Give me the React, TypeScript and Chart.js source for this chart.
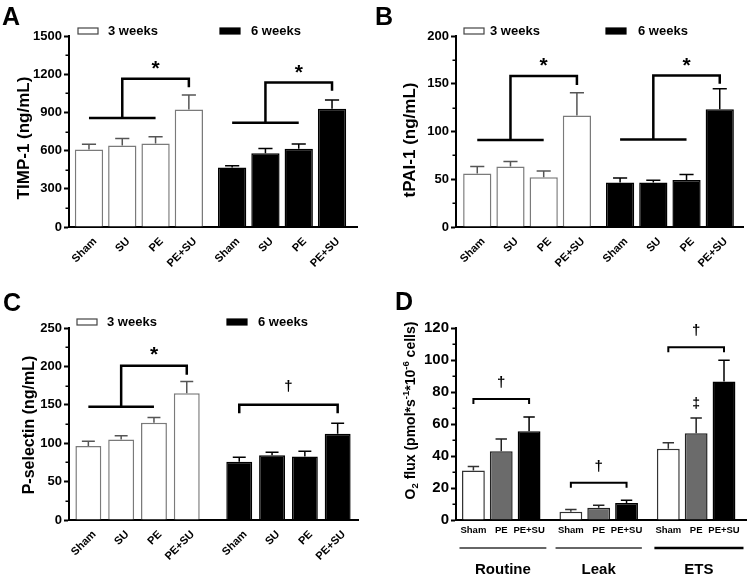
import React, { useEffect, useRef } from 'react';
import { Chart, registerables } from 'chart.js';

Chart.register(...registerables);

const FONT = 'Arial, "Liberation Sans", Helvetica, sans-serif';

// ---------------- data ----------------
const weekLabels = ['3 weeks', '6 weeks'];
const groupCats = ['Sham', 'SU', 'PE', 'PE+SU'];
const pos3w = [0, 1, 2, 3];
const pos6wAB = [4.3, 5.3, 6.3, 7.3];
const pos6wC = [4.6, 5.6, 6.6, 7.6];

// Panel A: TIMP-1 (ng/mL)
const timp3w = [609, 640, 656, 922];
const timp3wSem = [40, 55, 52, 115];
const timp6w = [468, 580, 614, 928];
const timp6wSem = [13, 37, 37, 70];

// Panel B: tPAI-1 (ng/mL)
const tpai3w = [56, 63.3, 52.1, 116.8];
const tpai3wSem = [7.3, 5.2, 6.6, 23.8];
const tpai6w = [46.5, 46.5, 49.3, 123.4];
const tpai6wSem = [4.9, 2.5, 5.6, 21.4];

// Panel C: P-selectin (ng/mL)
const psel3w = [96.5, 104.8, 126.5, 165.2];
const psel3wSem = [6.1, 4.8, 7.0, 15.2];
const psel6w = [75.7, 84.3, 82.6, 112.2];
const psel6wSem = [6.0, 4.0, 7.0, 13.9];

// Panel D: O2 flux
const o2Cats = ['Sham', 'PE', 'PE+SU'];
const o2States = ['Routine', 'Leak', 'ETS'];
const o2ShamPos = [0, 3.5, 7];
const o2PEPos = [1, 4.5, 8];
const o2PESUPos = [2, 5.5, 9];
const o2Sham = [31.0, 5.2, 44.6];
const o2ShamSem = [2.5, 1.3, 3.7];
const o2PE = [42.9, 7.7, 54.2];
const o2PESem = [7.7, 1.5, 9.6];
const o2PESU = [55.4, 10.6, 86.5];
const o2PESUSem = [9.0, 1.7, 13.3];

// significance brackets (data coordinates)
const timpSplits = [
  { from: 0, to: 2, baseY: 857, stem: 1, topY: 1165, end: 3, endY: 1097 },
  { from: 4.3, to: 6.3, baseY: 818, stem: 5.3, topY: 1134, end: 7.3, endY: 1071 },
];
const timpMarks = [
  { text: '*', x: 2, y: 1272 },
  { text: '*', x: 6.3, y: 1241 },
];
const tpaiSplits = [
  { from: 0, to: 2, baseY: 91, stem: 1, topY: 158, end: 3, endY: 148.6 },
  { from: 4.3, to: 6.3, baseY: 91.6, stem: 5.3, topY: 158.7, end: 7.3, endY: 150 },
];
const tpaiMarks = [
  { text: '*', x: 2, y: 173 },
  { text: '*', x: 6.3, y: 173 },
];
const pselSplits = [{ from: 0, to: 2, baseY: 147.4, stem: 1, topY: 201, end: 3, endY: 189 }];
const pselSpans = [{ from: 4.6, to: 7.6, y: 150, endY: 139 }];
const pselMarks = [
  { text: '*', x: 2, y: 220 },
  { text: '†', x: 6.1, y: 174 },
];
const o2Spans = [
  { from: 0, to: 2, y: 75.6, endY: 72.5 },
  { from: 3.5, to: 5.5, y: 23.3, endY: 20.2 },
  { from: 7, to: 9, y: 107.9, endY: 104.8 },
];
const o2Marks = [
  { text: '†', x: 1, y: 86.5 },
  { text: '†', x: 4.5, y: 34 },
  { text: '†', x: 8, y: 118.7 },
  { text: '‡', x: 8, y: 72.9 },
];

// ---------------- types ----------------
type Seg = { t: string; s?: 'sup' | 'sub' };
interface Series {
  label: string;
  pos: number[];
  values: number[];
  errors: number[];
  fill: string;
  stroke: string;
  err: string;
}
interface Split { from: number; to: number; baseY: number; stem: number; topY: number; end: number; endY: number }
interface Span { from: number; to: number; y: number; endY: number }
interface Mark { text: string; x: number; y: number }
interface LegendItem { label: string; fill: string; stroke: string; boxX: number; boxY: number; textX: number; textY: number }
interface Group { label: string; from: number; to: number; width: number; color: string }
interface PanelSpec {
  letter: string; letterX: number; letterY: number;
  chartLeft: number; chartTop: number; padRight: number; xHeight: number;
  yMax: number; yStep: number; yFont: number;
  xMin: number; xMax: number; tickPos: number[]; tickLabels: string[];
  xRot: number; xFont: number; xLabelOffset: number; xPad: number;
  barPct: number;
  series: Series[];
  yTitle: Seg[]; yTitleX: number; yTitleY: number; yTitleSize: number;
  legend: LegendItem[];
  splits: Split[]; spans: Span[]; marks: Mark[]; bracketWidth: number;
  markSizes: Record<string, number>;
  groups?: Group[]; groupLineDy?: number; groupLabelDy?: number; groupFont?: number;
}

function drawRich(ctx: CanvasRenderingContext2D, segs: Seg[], cx: number, cy: number, size: number) {
  ctx.save();
  ctx.translate(cx, cy);
  ctx.rotate(-Math.PI / 2);
  const parts = segs.map((s) => {
    const fs = s.s ? size * 0.68 : size;
    ctx.font = `bold ${fs}px ${FONT}`;
    return { ...s, fs, w: ctx.measureText(s.t).width };
  });
  const total = parts.reduce((a, p) => a + p.w, 0);
  let x = -total / 2;
  ctx.fillStyle = '#000';
  ctx.textBaseline = 'alphabetic';
  ctx.textAlign = 'left';
  const base = size * 0.36;
  for (const p of parts) {
    ctx.font = `bold ${p.fs}px ${FONT}`;
    const dy = p.s === 'sup' ? -size * 0.42 : p.s === 'sub' ? size * 0.22 : 0;
    ctx.fillText(p.t, x, base + dy);
    x += p.w;
  }
  ctx.restore();
}

function makeDecor(spec: PanelSpec) {
  return {
    id: 'decor' + spec.letter,
    afterDatasetsDraw(chart: any) {
      const ctx: CanvasRenderingContext2D = chart.ctx;
      const ys = chart.scales.y;
      spec.series.forEach((s, di) => {
        const meta = chart.getDatasetMeta(di);
        meta.data.forEach((bar: any, i: number) => {
          const top = ys.getPixelForValue(s.values[i] + s.errors[i]);
          const half = bar.width * 0.25;
          ctx.save();
          ctx.strokeStyle = s.err;
          ctx.lineWidth = 1.5;
          ctx.beginPath();
          ctx.moveTo(bar.x, bar.y);
          ctx.lineTo(bar.x, top);
          ctx.moveTo(bar.x - half, top);
          ctx.lineTo(bar.x + half, top);
          ctx.stroke();
          ctx.restore();
        });
      });
    },
    afterDraw(chart: any) {
      const ctx: CanvasRenderingContext2D = chart.ctx;
      const xs = chart.scales.x;
      const ys = chart.scales.y;
      const area = chart.chartArea;
      const X = (v: number) => xs.getPixelForValue(v);
      const Y = (v: number) => ys.getPixelForValue(v);
      ctx.save();
      // minor ticks
      ctx.strokeStyle = '#000';
      ctx.lineWidth = 1.5;
      ctx.beginPath();
      for (let v = spec.yStep / 2; v < spec.yMax; v += spec.yStep) {
        const py = Math.round(Y(v)) + 0.25;
        ctx.moveTo(area.left - 3.5, py);
        ctx.lineTo(area.left, py);
      }
      ctx.stroke();

      // brackets
      ctx.lineWidth = spec.bracketWidth;
      ctx.lineJoin = 'miter';
      ctx.lineCap = 'butt';
      for (const b of spec.splits) {
        ctx.beginPath();
        ctx.moveTo(X(b.from), Y(b.baseY));
        ctx.lineTo(X(b.to), Y(b.baseY));
        ctx.stroke();
        ctx.beginPath();
        ctx.moveTo(X(b.stem), Y(b.baseY));
        ctx.lineTo(X(b.stem), Y(b.topY));
        ctx.lineTo(X(b.end), Y(b.topY));
        ctx.lineTo(X(b.end), Y(b.endY));
        ctx.stroke();
      }
      for (const b of spec.spans) {
        ctx.beginPath();
        ctx.moveTo(X(b.from), Y(b.endY));
        ctx.lineTo(X(b.from), Y(b.y));
        ctx.lineTo(X(b.to), Y(b.y));
        ctx.lineTo(X(b.to), Y(b.endY));
        ctx.stroke();
      }
      // marks
      ctx.fillStyle = '#000';
      ctx.textAlign = 'center';
      ctx.textBaseline = 'alphabetic';
      for (const m of spec.marks) {
        ctx.font = `bold ${spec.markSizes[m.text]}px ${FONT}`;
        const mt = ctx.measureText(m.text);
        const asc = mt.actualBoundingBoxAscent;
        const desc = mt.actualBoundingBoxDescent;
        ctx.fillText(m.text, X(m.x), Y(m.y) + (asc - desc) / 2);
      }
      // group lines / labels (panel D)
      if (spec.groups) {
        for (const g of spec.groups) {
          ctx.strokeStyle = g.color;
          ctx.lineWidth = g.width;
          ctx.beginPath();
          const ly = area.bottom + (spec.groupLineDy || 0);
          ctx.moveTo(X(g.from), ly);
          ctx.lineTo(X(g.to), ly);
          ctx.stroke();
          ctx.font = `bold ${spec.groupFont}px ${FONT}`;
          ctx.textBaseline = 'middle';
          ctx.fillText(g.label, (X(g.from) + X(g.to)) / 2, area.bottom + (spec.groupLabelDy || 0));
        }
      }
      // legend
      for (const l of spec.legend) {
        ctx.fillStyle = l.fill;
        ctx.fillRect(l.boxX, l.boxY, 20, 6);
        ctx.strokeStyle = l.stroke;
        ctx.lineWidth = 1.2;
        ctx.strokeRect(l.boxX, l.boxY, 20, 6);
        ctx.fillStyle = '#000';
        ctx.font = `bold 13px ${FONT}`;
        ctx.textAlign = 'left';
        ctx.textBaseline = 'middle';
        ctx.fillText(l.label, l.textX, l.textY);
      }
      // panel letter
      ctx.fillStyle = '#000';
      ctx.font = `bold 25px ${FONT}`;
      ctx.textAlign = 'left';
      ctx.textBaseline = 'alphabetic';
      ctx.fillText(spec.letter, spec.letterX, spec.letterY);
      ctx.restore();
      // y title
      drawRich(ctx, spec.yTitle, spec.yTitleX, spec.yTitleY, spec.yTitleSize);
    },
  };
}

function buildConfig(spec: PanelSpec): any {
  const datasets = spec.series.map((s) => ({
    type: 'bar',
    label: s.label,
    data: s.pos.map((p, i) => ({ x: p, y: s.values[i] })),
    backgroundColor: s.fill,
    borderColor: s.stroke,
    borderWidth: 1.5,
    barPercentage: spec.barPct,
    categoryPercentage: 1,
  }));
  return {
    type: 'bar',
    data: { datasets },
    options: {
      animation: false,
      responsive: false,
      maintainAspectRatio: false,
      events: [],
      layout: { padding: { left: 0, top: spec.chartTop, right: spec.padRight, bottom: 0 } },
      plugins: { legend: { display: false }, tooltip: { enabled: false }, title: { display: false } },
      scales: {
        x: {
          type: 'linear',
          min: spec.xMin,
          max: spec.xMax,
          offset: false,
          stacked: true,
          grid: { display: false, drawTicks: false },
          border: { display: true, color: '#000', width: 2 },
          afterBuildTicks: (axis: any) => {
            axis.ticks = spec.tickPos.map((v) => ({ value: v }));
          },
          ticks: {
            autoSkip: false,
            minRotation: spec.xRot,
            maxRotation: spec.xRot,
            labelOffset: spec.xLabelOffset,
            padding: spec.xPad,
            color: '#000',
            font: { family: FONT, size: spec.xFont, weight: 'bold' },
            callback: (_v: any, i: number) => spec.tickLabels[i],
          },
          afterFit: (axis: any) => {
            axis.height = spec.xHeight;
          },
        },
        y: {
          type: 'linear',
          min: 0,
          max: spec.yMax,
          grid: { display: true, drawOnChartArea: false, drawTicks: true, tickLength: 5, tickWidth: 2, tickColor: '#000' },
          border: { display: true, color: '#000', width: 2 },
          ticks: {
            stepSize: spec.yStep,
            padding: 2,
            color: '#000',
            font: { family: FONT, size: spec.yFont, weight: 'bold' },
            callback: (v: any) => String(v),
          },
          afterFit: (axis: any) => {
            axis.width = spec.chartLeft;
          },
        },
      },
    },
    plugins: [makeDecor(spec)],
  };
}

const markSizesABC = { '*': 21, '†': 15, '‡': 14 };

const specA: PanelSpec = {
  letter: 'A', letterX: 2, letterY: 25,
  chartLeft: 69, chartTop: 36, padRight: 16, xHeight: 58,
  yMax: 1500, yStep: 300, yFont: 13,
  xMin: -0.6, xMax: 8.05, tickPos: [...pos3w, ...pos6wAB], tickLabels: [...groupCats, ...groupCats],
  xRot: 45, xFont: 11, xLabelOffset: 6, xPad: 8,
  barPct: 0.85,
  series: [
    { label: weekLabels[0], pos: pos3w, values: timp3w, errors: timp3wSem, fill: '#ffffff', stroke: '#7a7a7a', err: '#555' },
    { label: weekLabels[1], pos: pos6wAB, values: timp6w, errors: timp6wSem, fill: '#000000', stroke: '#000000', err: '#000' },
  ],
  yTitle: [{ t: 'TIMP-1 (ng/mL)' }], yTitleX: 22.5, yTitleY: 138, yTitleSize: 17,
  legend: [
    { label: weekLabels[0], fill: '#fff', stroke: '#444', boxX: 78, boxY: 28, textX: 108, textY: 31 },
    { label: weekLabels[1], fill: '#000', stroke: '#000', boxX: 220, boxY: 28, textX: 251, textY: 31 },
  ],
  splits: timpSplits, spans: [], marks: timpMarks, bracketWidth: 2.5, markSizes: markSizesABC,
};

const specB: PanelSpec = {
  letter: 'B', letterX: 2, letterY: 25,
  chartLeft: 83, chartTop: 36, padRight: 4, xHeight: 58,
  yMax: 200, yStep: 50, yFont: 13,
  xMin: -0.64, xMax: 8.0, tickPos: [...pos3w, ...pos6wAB], tickLabels: [...groupCats, ...groupCats],
  xRot: 45, xFont: 11, xLabelOffset: 6, xPad: 8,
  barPct: 0.85,
  series: [
    { label: weekLabels[0], pos: pos3w, values: tpai3w, errors: tpai3wSem, fill: '#ffffff', stroke: '#7a7a7a', err: '#555' },
    { label: weekLabels[1], pos: pos6wAB, values: tpai6w, errors: tpai6wSem, fill: '#000000', stroke: '#000000', err: '#000' },
  ],
  yTitle: [{ t: 'tPAI-1 (ng/mL)' }], yTitleX: 36, yTitleY: 140, yTitleSize: 17,
  legend: [
    { label: weekLabels[0], fill: '#fff', stroke: '#444', boxX: 91, boxY: 28, textX: 117, textY: 31 },
    { label: weekLabels[1], fill: '#000', stroke: '#000', boxX: 233, boxY: 28, textX: 265, textY: 31 },
  ],
  splits: tpaiSplits, spans: [], marks: tpaiMarks, bracketWidth: 2.5, markSizes: markSizesABC,
};

const specC: PanelSpec = {
  letter: 'C', letterX: 3, letterY: 26,
  chartLeft: 69, chartTop: 43, padRight: 15, xHeight: 58,
  yMax: 250, yStep: 50, yFont: 13,
  xMin: -0.59, xMax: 8.22, tickPos: [...pos3w, ...pos6wC], tickLabels: [...groupCats, ...groupCats],
  xRot: 45, xFont: 11, xLabelOffset: 6, xPad: 8,
  barPct: 0.79,
  series: [
    { label: weekLabels[0], pos: pos3w, values: psel3w, errors: psel3wSem, fill: '#ffffff', stroke: '#7a7a7a', err: '#555' },
    { label: weekLabels[1], pos: pos6wC, values: psel6w, errors: psel6wSem, fill: '#000000', stroke: '#000000', err: '#000' },
  ],
  yTitle: [{ t: 'P-selectin (ng/mL)' }], yTitleX: 28, yTitleY: 140, yTitleSize: 16,
  legend: [
    { label: weekLabels[0], fill: '#fff', stroke: '#444', boxX: 77, boxY: 34, textX: 107, textY: 37 },
    { label: weekLabels[1], fill: '#000', stroke: '#000', boxX: 227, boxY: 34, textX: 258, textY: 37 },
  ],
  splits: pselSplits, spans: pselSpans, marks: pselMarks, bracketWidth: 2.5, markSizes: markSizesABC,
};

const specD: PanelSpec = {
  letter: 'D', letterX: 22, letterY: 25,
  chartLeft: 83, chartTop: 43, padRight: 1, xHeight: 58,
  yMax: 120, yStep: 20, yFont: 15,
  xMin: -0.625, xMax: 9.79,
  tickPos: [...o2ShamPos, ...o2PEPos, ...o2PESUPos].sort((a, b) => a - b),
  tickLabels: [...o2Cats, ...o2Cats, ...o2Cats],
  xRot: 0, xFont: 9.5, xLabelOffset: 0, xPad: 5,
  barPct: 0.82,
  series: [
    { label: o2Cats[0], pos: o2ShamPos, values: o2Sham, errors: o2ShamSem, fill: '#ffffff', stroke: '#333', err: '#333' },
    { label: o2Cats[1], pos: o2PEPos, values: o2PE, errors: o2PESem, fill: '#6b6b6b', stroke: '#222', err: '#222' },
    { label: o2Cats[2], pos: o2PESUPos, values: o2PESU, errors: o2PESUSem, fill: '#000000', stroke: '#000', err: '#000' },
  ],
  yTitle: [
    { t: 'O' }, { t: '2', s: 'sub' }, { t: ' flux (pmol*s' }, { t: '-1', s: 'sup' },
    { t: '*10' }, { t: '-6', s: 'sup' }, { t: ' cells)' },
  ],
  yTitleX: 37, yTitleY: 125.5, yTitleSize: 14,
  legend: [],
  splits: [], spans: o2Spans, marks: o2Marks, bracketWidth: 2, markSizes: { '*': 21, '†': 15, '‡': 14 },
  groups: [
    { label: o2States[0], from: -0.5, to: 2.62, width: 1.5, color: '#333' },
    { label: o2States[1], from: 2.95, to: 6.05, width: 1.5, color: '#333' },
    { label: o2States[2], from: 6.5, to: 9.7, width: 2.5, color: '#000' },
  ],
  groupLineDy: 28, groupLabelDy: 50, groupFont: 15,
};

function Panel({ spec, left, top, width, height }: { spec: PanelSpec; left: number; top: number; width: number; height: number }) {
  const ref = useRef<HTMLCanvasElement>(null);
  useEffect(() => {
    if (!ref.current) return;
    const chart = new Chart(ref.current, buildConfig(spec));
    return () => chart.destroy();
  }, [spec]);
  return (
    <canvas
      ref={ref}
      width={width}
      height={height}
      style={{ position: 'absolute', left, top, width, height, display: 'block' }}
    />
  );
}

export default function App() {
  return (
    <div style={{ position: 'absolute', left: 0, top: 0, width: 747, height: 578, background: '#fff', overflow: 'hidden' }}>
      <Panel spec={specA} left={0} top={0} width={373} height={285} />
      <Panel spec={specB} left={373} top={0} width={374} height={285} />
      <Panel spec={specC} left={0} top={285} width={373} height={293} />
      <Panel spec={specD} left={373} top={285} width={374} height={293} />
    </div>
  );
}
